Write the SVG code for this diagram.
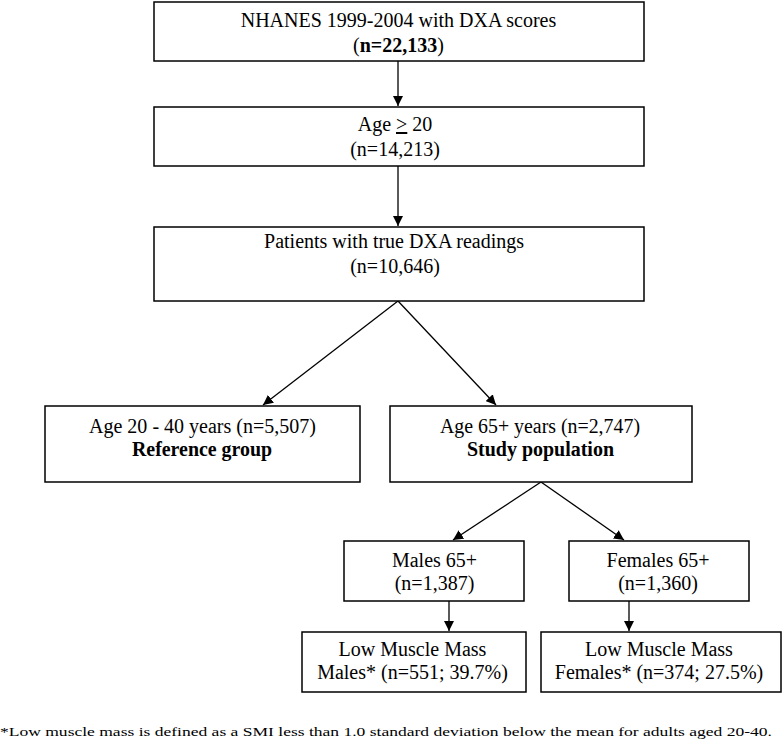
<svg xmlns="http://www.w3.org/2000/svg" width="782" height="750" viewBox="0 0 782 750">
<defs>
<marker id="ah" viewBox="0 0 10 10" refX="10" refY="5" markerWidth="10" markerHeight="10" markerUnits="userSpaceOnUse" orient="auto">
<path d="M0,0 L10,5 L0,10 Z" fill="#000"/>
</marker>
<style>
rect{fill:#fff;stroke:#000;stroke-width:1.5}
text{font-family:"Liberation Serif","Times New Roman",serif;font-size:20px;fill:#000;text-anchor:middle}
.b{font-weight:bold}
.c line{stroke:#000;stroke-width:1.3;marker-end:url(#ah)}
.fn{font-size:12px;text-anchor:start}
</style>
</defs>
<rect x="0" y="0" width="782" height="750" style="fill:#fff;stroke:none"/>
<g class="c">
<line x1="398" y1="61" x2="398" y2="106"/>
<line x1="398" y1="166" x2="398" y2="226"/>
<line x1="398" y1="301" x2="263" y2="405"/>
<line x1="398" y1="301" x2="496" y2="405"/>
<line x1="541" y1="482" x2="453" y2="540"/>
<line x1="541" y1="482" x2="624" y2="540"/>
<line x1="449" y1="601" x2="449" y2="631"/>
<line x1="629" y1="601" x2="629" y2="631"/>
</g>
<g id="n1"><rect x="154" y="2" width="490" height="59"/><text x="398.5" y="27">NHANES 1999-2004 with DXA scores</text><text x="398.5" y="52">(<tspan class="b">n=22,133</tspan>)</text></g>
<g id="n2"><rect x="154" y="107" width="490" height="59"/><text x="395" y="131">Age <tspan text-decoration="underline">&gt;</tspan> 20</text><text x="395" y="156">(n=14,213)</text></g>
<g id="n3"><rect x="154" y="227" width="490" height="74"/><text x="394" y="248">Patients with true DXA readings</text><text x="395" y="273">(n=10,646)</text></g>
<g id="n4"><rect x="45" y="406" width="315" height="76"/><text x="202.5" y="433" textLength="227" lengthAdjust="spacingAndGlyphs">Age 20 - 40 years (n=5,507)</text><text x="202" y="456" class="b" textLength="140" lengthAdjust="spacingAndGlyphs">Reference group</text></g>
<g id="n5"><rect x="390" y="406" width="302" height="76"/><text x="540" y="433" textLength="200" lengthAdjust="spacingAndGlyphs">Age 65+ years (n=2,747)</text><text x="540.5" y="456" class="b" textLength="147" lengthAdjust="spacingAndGlyphs">Study population</text></g>
<g id="n6"><rect x="344" y="541" width="180" height="60"/><text x="434.5" y="567">Males 65+</text><text x="434.5" y="590">(n=1,387)</text></g>
<g id="n7"><rect x="569" y="541" width="180" height="60"/><text x="658" y="567">Females 65+</text><text x="658" y="590">(n=1,360)</text></g>
<g id="n8"><rect x="302" y="632" width="224" height="60"/><text x="412.5" y="656">Low Muscle Mass</text><text x="412.5" y="679">Males* (n=551; 39.7%)</text></g>
<g id="n9"><rect x="541" y="632" width="240" height="60"/><text x="659" y="656">Low Muscle Mass</text><text x="659" y="679">Females* (n=374; 27.5%)</text></g>
<text class="fn" x="0" y="736" textLength="772" lengthAdjust="spacingAndGlyphs">*Low muscle mass is defined as a SMI less than 1.0 standard deviation below the mean for adults aged 20-40.</text>
</svg>
